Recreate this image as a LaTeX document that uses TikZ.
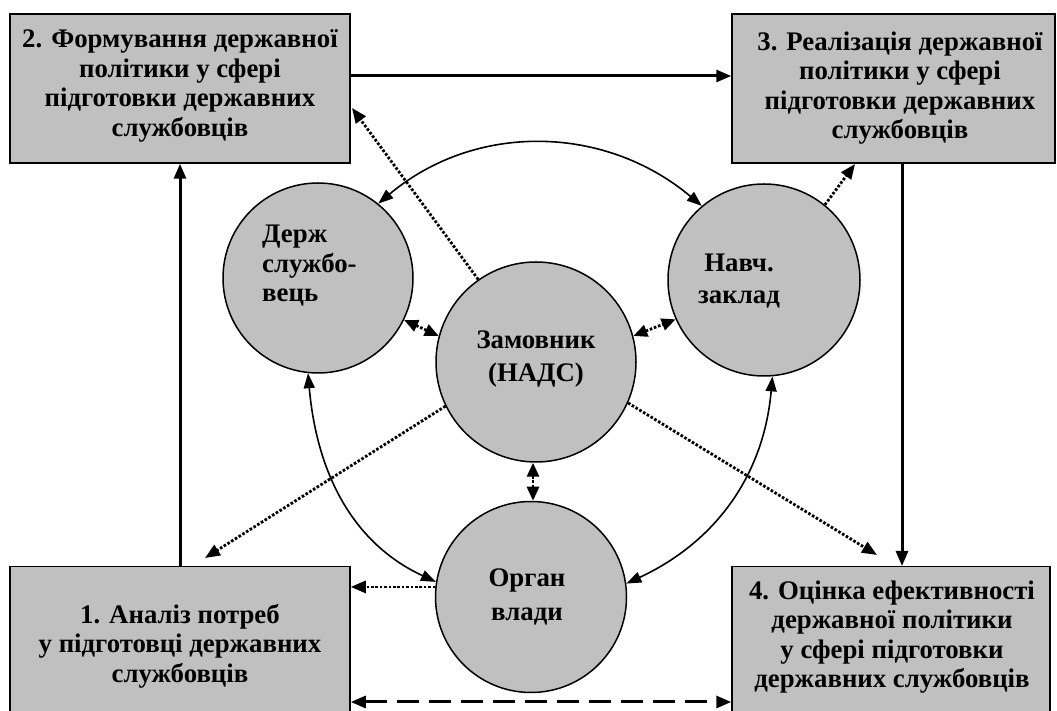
\documentclass[tikz,border=0pt]{standalone}
\usepackage{fontspec}
\setmainfont{Liberation Serif}
\usetikzlibrary{arrows.meta}
\definecolor{fillgray}{HTML}{C0C0C0}
\begin{document}
\begin{tikzpicture}[x=1pt,y=1pt,
  box/.style={draw=black, line width=1.5pt, fill=fillgray, rectangle, inner sep=0pt},
  circ/.style={draw=black, line width=1.5pt, fill=fillgray, circle, inner sep=0pt},
  txt/.style={font=\fontsize{26.8}{29.5}\selectfont\bfseries, align=center, inner sep=0pt},
  mainarrow/.style={line width=3pt, -{Triangle[length=15pt,width=12pt]}},
  thinarrow/.style={line width=1.6pt, {Triangle[length=15pt,width=11pt]}-{Triangle[length=15pt,width=11pt]}},
  dotline/.style={line width=2.8pt, dash pattern=on 2.6pt off 1.8pt},
  dotarrow/.style={dotline, -{Triangle[length=15pt,width=12pt]}},
  dotboth/.style={dotline, {Triangle[length=14pt,width=12pt]}-{Triangle[length=14pt,width=12pt]}},
  dasharrow/.style={line width=3pt, dash pattern=on 22pt off 10pt, {Triangle[length=15pt,width=12pt]}-{Triangle[length=15pt,width=12pt]}}
]
\clip (0,0) rectangle (1057,711);
\fill[white] (0,0) rectangle (1057,711);

% boxes
\node[box, minimum width=340pt, minimum height=149pt] (b2) at (180,622.5) {};
\node[box, minimum width=323pt, minimum height=149pt] (b3) at (893.5,622.5) {};
\node[box, minimum width=340pt, minimum height=180pt, anchor=north] (b1) at (180,145) {};
\node[box, minimum width=318pt, minimum height=180pt, anchor=north] (b4) at (891,145) {};

\node[txt] (t2) at (180,625) {2. Формування державної\\політики у сфері\\підготовки державних\\службовців};
\node[txt] (t3) at (900,623) {3. Реалізація державної\\політики у сфері\\підготовки державних\\службовців};
\node[txt] (t1) at (180,65) {1. Аналіз потреб\\у підготовці державних\\службовців};
\node[txt] (t4) at (892,74) {4. Оцінка ефективності\\державної політики\\у сфері підготовки\\державних службовців};

% circles
\node[circ, minimum size=190pt] (derzh) at (318,433) {};
\node[circ, minimum size=192pt] (navch) at (764,431) {};
\node[circ, minimum size=200pt] (zam) at (536,349) {};
\node[circ, minimum size=191pt] (org) at (531,114) {};

\node[txt, align=left, anchor=west] (tderzh) at (262,445) {Держ\\службо-\\вець};
\node[txt] (tnavch) at (739,430) {Навч.\\[3pt]заклад};
\node[txt] (tzam) at (536,352) {Замовник\\[4pt](НАДС)};
\node[txt] (torg) at (527,114) {Орган\\[5pt]влади};

% coordinates
\coordinate (vx) at (902,0);
\coordinate (vz) at (533,0);
\coordinate (dy) at (0,9);
\coordinate (hy) at (0,635);
\coordinate (e2) at (352,603);
\coordinate (e3) at (855,547);
\coordinate (e1) at (205,153);
\coordinate (e4) at (877,156);

% main flow
\draw[mainarrow] (b2.east |- hy) -- (b3.west |- hy);
\draw[mainarrow] (b1.north) -- (b2.south);
\draw[mainarrow] (b3.south -| vx) -- (b4.north -| vx);
\draw[dasharrow] (b1.east |- dy) -- (b4.west |- dy);

% dotted
\draw[dotarrow] (zam.125) -- (e2);
\draw[dotarrow] (navch.51) -- (e3);
\draw[dotboth] (derzh.-26) -- (zam.165);
\draw[dotboth] (zam.15) -- (navch.204);
\draw[dotboth] (zam.south -| vz) -- (org.north -| vz);
\draw[dotarrow] (zam.206) -- (e1);
\draw[dotarrow] (zam.-24) -- (e4);
\draw[dotarrow] (org.174) -- (b1.east |- org.174);

% curves
\draw[thinarrow] (derzh.51) to[out=40,in=140] (navch.130);
\draw[thinarrow] (derzh.264) to[out=-85,in=155] (org.171);
\draw[thinarrow] (navch.275) to[out=-95,in=25] (org.8);
\end{tikzpicture}
\end{document}
